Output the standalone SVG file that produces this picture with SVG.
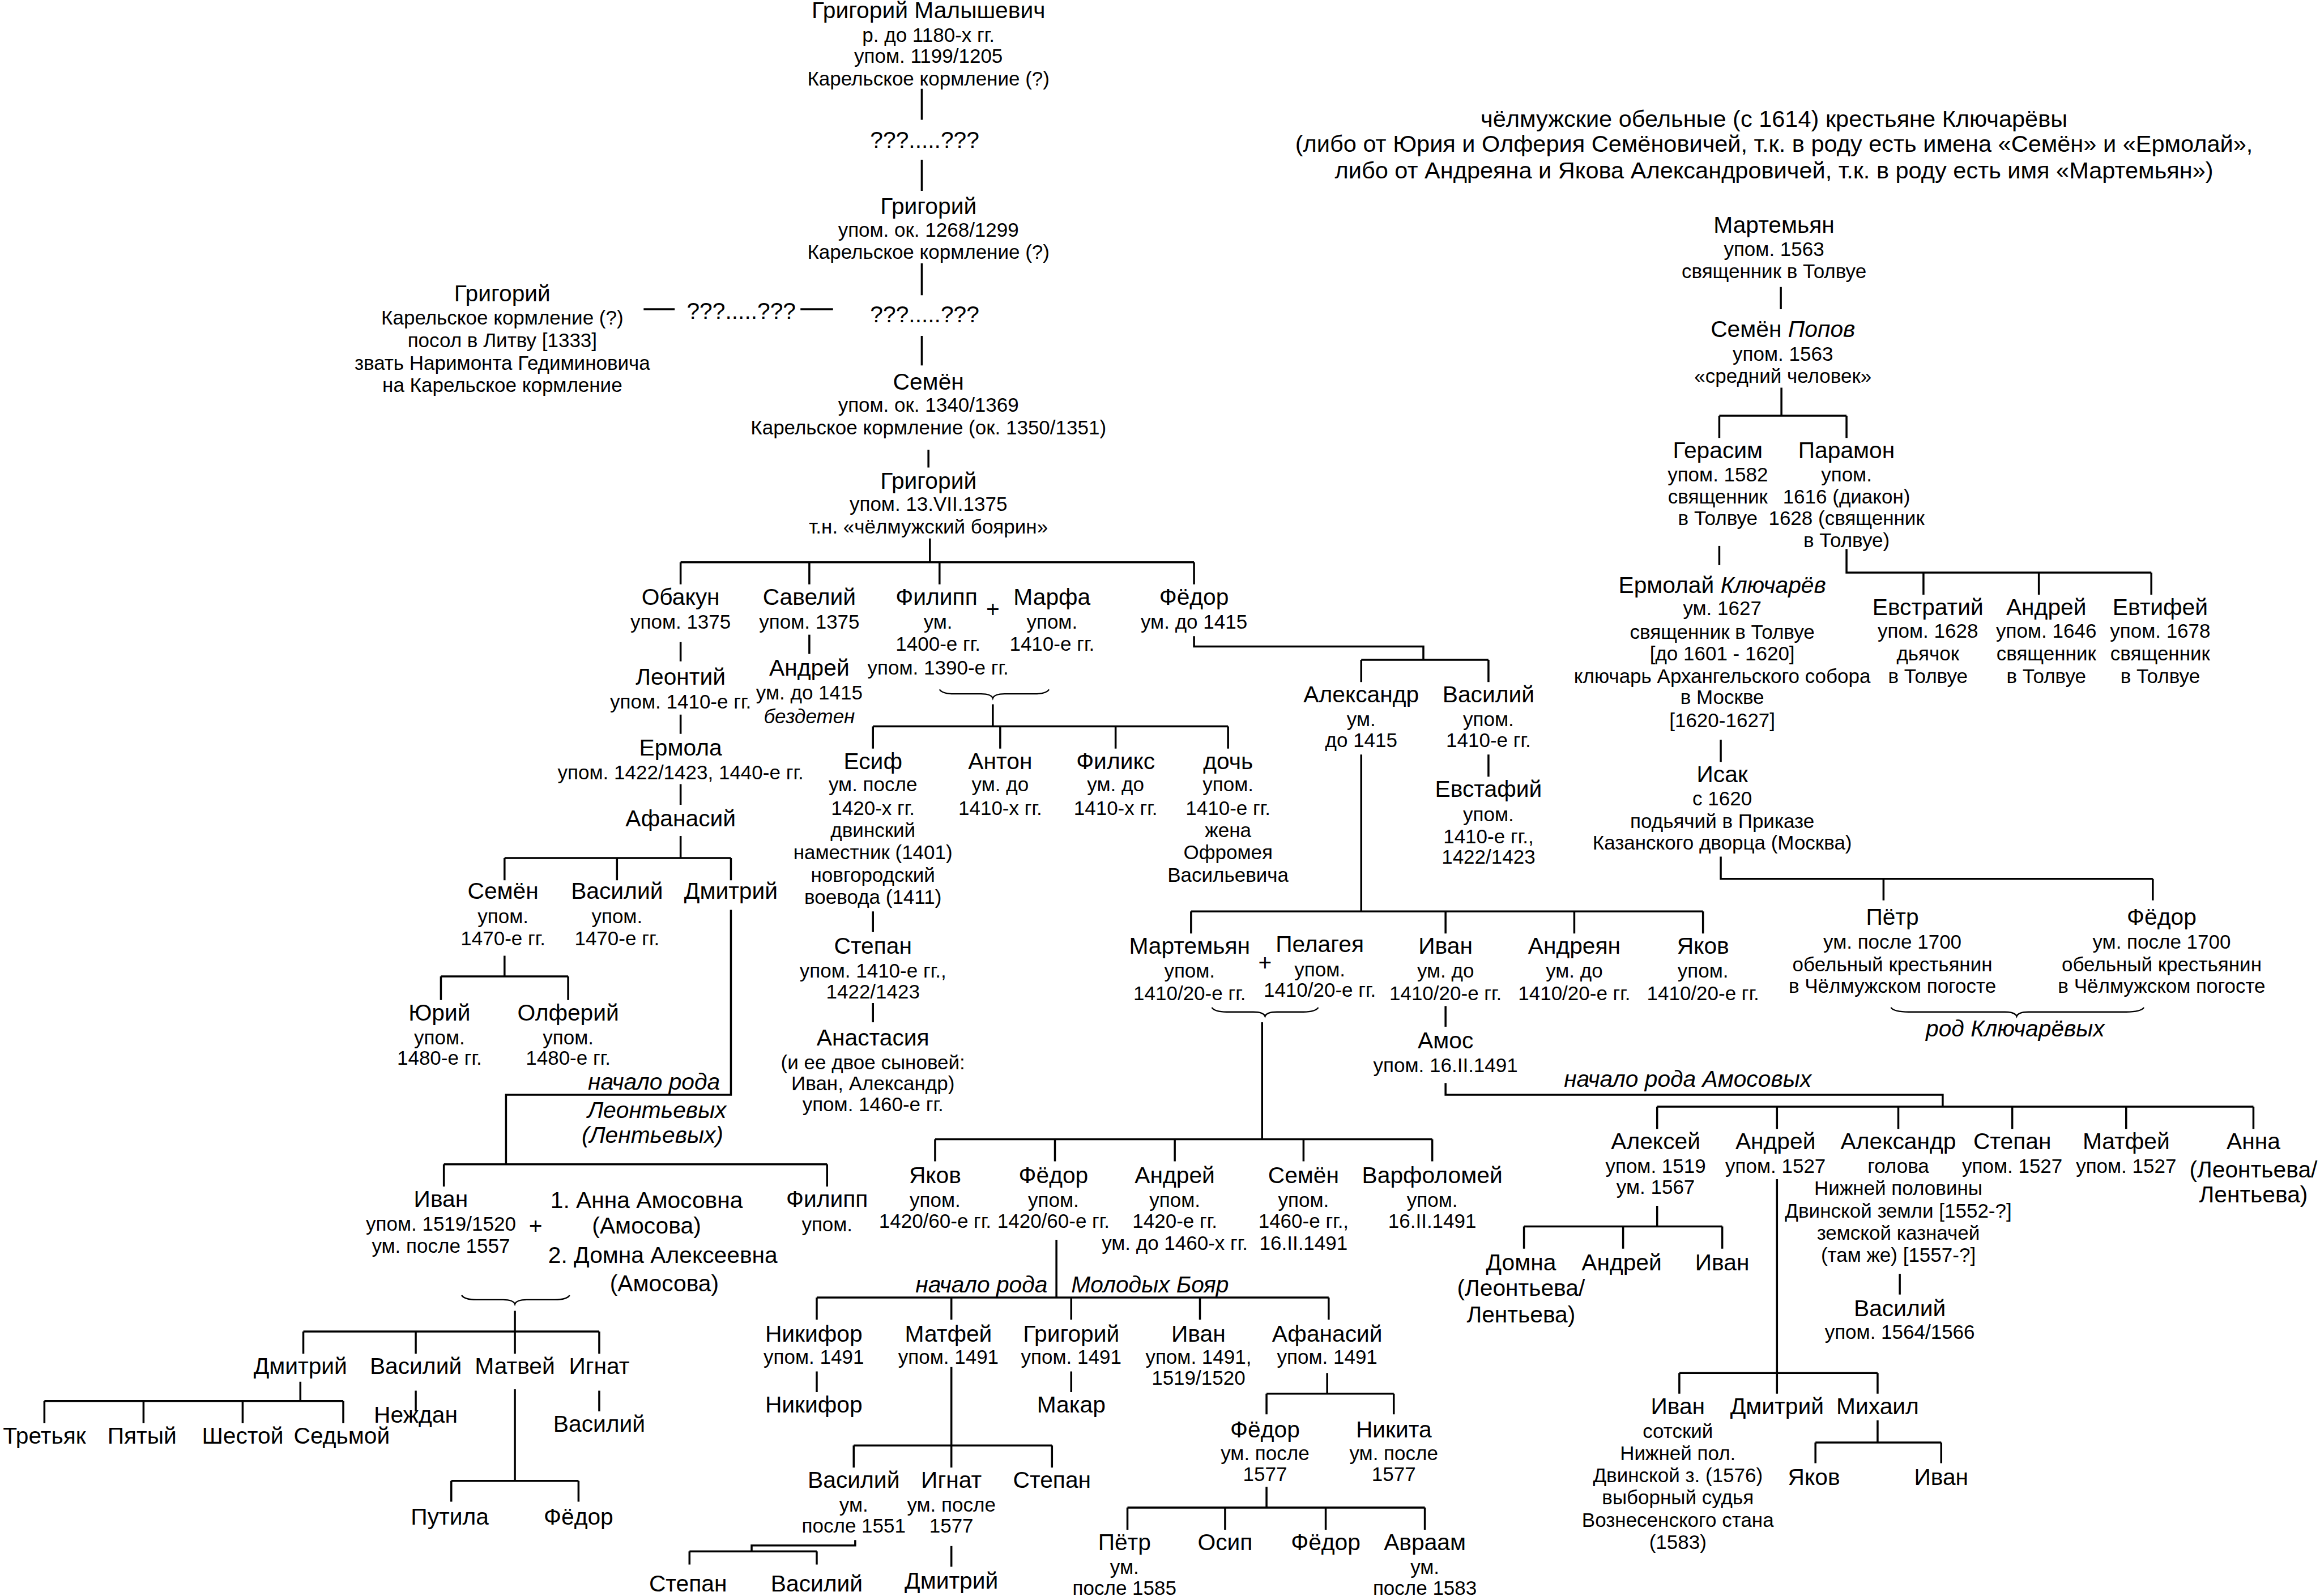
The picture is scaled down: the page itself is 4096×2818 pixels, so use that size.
<svg xmlns="http://www.w3.org/2000/svg" width="4096" height="2818" viewBox="0 0 4096 2818">
<style>
text{font-family:"Liberation Sans",Arial,"DejaVu Sans",sans-serif;text-anchor:middle;fill:#000}
.n{font-size:15.6px}
.h{font-size:15.9px}
.d{font-size:13.4px}
.i{font-style:italic}
.s{text-anchor:start}
.e{text-anchor:end}
.c path{fill:none;stroke:#000;stroke-width:1.35}
.c path.b{stroke-width:0.9}
</style>
<rect width="4096" height="2818" fill="#fff"/>
<g transform="scale(2.61224)">
<g id="connectors" class="c">
<path d="M623,60V81M623,108V129M623,178V199.5M623,227V247M627.5,304V316"/>
<path d="M435,209H456M541,209H563"/>
<path d="M628.5,364V380M460,380H807M460,380V395M547,380V395M635,380V395M807,380V395"/>
<path d="M460,434V447M460,483V496M460,530V544M460,565V580M341,580H494M341,580V595M417,580V595M494,580V595"/>
<path d="M341,646V660M298,660H384M298,660V676M384,660V676"/>
<path d="M494,615V740H342V787M300,787H559M300,787V802M559,787V802"/>
<path d="M547,429V442"/>
<path class="b" d="M635,466Q637,469 645,469L663,469Q670,469 671,472Q672,469 679,469L699,469Q707,469 709,466"/>
<path d="M671,476V491M590,491H830M590,491V506M676,491V506M754,491V506M830,491V506"/>
<path d="M590,616V630M590,678V691"/>
<path d="M807,430V437H962V446M920,446H1006M920,446V461M1006,446V461"/>
<path d="M1006,510V525"/>
<path d="M920,510V616M805,616H1151M805,616V631M977,616V631M1064,616V631M1151,616V631"/>
<path d="M977,680V694"/>
<path d="M977,732V740H1313V748M1120,748H1523M1120,748V763M1201,748V763M1283,748V763M1360,748V763M1437,748V763M1523,748V763"/>
<path d="M1120,815V829M1030,829H1164M1030,829V844M1097,829V844M1164,829V844"/>
<path d="M1284,861V875"/>
<path d="M1201,797V942M1135,928H1269M1135,928V942M1269,928V942"/>
<path d="M1269,960V975M1227,975H1312M1227,975V989M1312,975V989"/>
<path class="b" d="M819,681Q821,684 829,684L847,684Q854,684 855,687Q856,684 863,684L881,684Q889,684 891,681"/>
<path d="M853,691V770M632,770H968M632,770V785M713,770V785M794,770V785M881,770V785M968,770V785"/>
<path d="M714,838V877M552,877H898M552,877V892M643,877V892M724,877V892M811,877V892M898,877V892"/>
<path d="M552,927V941M724,927V941"/>
<path d="M643,924V977M577,977H711M577,977V992M643,977V992M711,977V992"/>
<path d="M578,1041V1044.6H508V1048.6M466,1048.6H552M466,1048.6V1057.5M552,1048.6V1057.5"/>
<path d="M643,1045V1059"/>
<path d="M897,928V942M856,942H942M856,942V956M942,942V956"/>
<path d="M856,1005V1019M762,1019H963M762,1019V1034M828,1019V1034M896,1019V1034M963,1019V1034"/>
<path class="b" d="M312,875.5Q314,878.5 322,878.5L340,878.5Q347,878.5 348,881.5Q349,878.5 356,878.5L375,878.5Q383,878.5 385,875.5"/>
<path d="M348,886V915M205,900H405M205,900V915M281,900V915M405,900V915"/>
<path d="M203,934V947M30,947H232M30,947V962M97,947V962M164,947V962M232,947V962"/>
<path d="M281,940V954M405,940V954"/>
<path d="M348,939V1001M305,1001H391M305,1001V1015M391,1001V1015"/>
<path d="M1203.6,194V209M1204,262V281M1162,281H1248M1162,281V296M1248,281V296"/>
<path d="M1162,369V382"/>
<path d="M1248,371V387H1454M1300,387V402M1378,387V402M1454,387V402"/>
<path d="M1163,500V515"/>
<path d="M1163,579V594H1455M1273,594V608.6M1455,594V608.6"/>
<path class="b" d="M1278,681Q1280,684 1290,684L1355,684Q1362,684 1363,687Q1364,684 1371,684L1437,684Q1447,684 1449,681"/>
</g>
<g id="nodes">
<g id="grigoriy-malyshevich"><text class="n" x="627.5" y="12.3">Григорий Малышевич</text><text class="d" x="627.5" y="28.5">р. до 1180-х гг.</text><text class="d" x="627.5" y="42.6">упом. 1199/1205</text><text class="d" x="627.5" y="57.9">Карельское кормление (?)</text></g>
<g id="unknown-1"><text class="n" x="625" y="99.9">???.....???</text></g>
<g id="grigoriy-1268"><text class="n" x="627.5" y="144.7">Григорий</text><text class="d" x="627.5" y="160">упом. ок. 1268/1299</text><text class="d" x="627.5" y="175">Карельское кормление (?)</text></g>
<g id="unknown-2"><text class="n" x="625" y="217.7">???.....???</text></g>
<g id="unknown-3"><text class="n" x="501" y="215.4">???.....???</text></g>
<g id="grigoriy-posol"><text class="n" x="339.5" y="203.6">Григорий</text><text class="d" x="339.5" y="219.3">Карельское кормление (?)</text><text class="d" x="339.5" y="234.6">посол в Литву [1333]</text><text class="d" x="339.5" y="250">звать Наримонта Гедиминовича</text><text class="d" x="339.5" y="264.8">на Карельское кормление</text></g>
<g id="semen-1340"><text class="n" x="627.5" y="263.2">Семён</text><text class="d" x="627.5" y="278.2">упом. ок. 1340/1369</text><text class="d" x="627.5" y="293.5">Карельское кормление (ок. 1350/1351)</text></g>
<g id="grigoriy-1375"><text class="n" x="627.5" y="330.4">Григорий</text><text class="d" x="627.5" y="345.3">упом. 13.VII.1375</text><text class="d" x="627.5" y="360.7">т.н. «чёлмужский боярин»</text></g>
<g id="obakun"><text class="n" x="460" y="408.7">Обакун</text><text class="d" x="460" y="424.9">упом. 1375</text></g>
<g id="leontiy"><text class="n" x="460" y="462.7">Леонтий</text><text class="d" x="460" y="478.9">упом. 1410-е гг.</text></g>
<g id="ermola"><text class="n" x="460" y="510.7">Ермола</text><text class="d" x="460" y="526.9">упом. 1422/1423, 1440-е гг.</text></g>
<g id="afanasiy-1"><text class="n" x="460" y="558.7">Афанасий</text></g>
<g id="saveliy"><text class="n" x="547" y="408.7">Савелий</text><text class="d" x="547" y="424.9">упом. 1375</text></g>
<g id="andrey-saveliev"><text class="n" x="547" y="456.7">Андрей</text><text class="d" x="547" y="472.9">ум. до 1415</text><text class="d i" x="547" y="488.9">бездетен</text></g>
<g id="filipp"><text class="n" x="633" y="408.7">Филипп</text><text class="d" x="634" y="424.9">ум.</text><text class="d" x="634" y="439.9">1400-е гг.</text><text class="d" x="634" y="455.9">упом. 1390-е гг.</text></g>
<text class="n" x="671" y="417.3">+</text>
<g id="marfa"><text class="n" x="711" y="408.7">Марфа</text><text class="d" x="711" y="424.9">упом.</text><text class="d" x="711" y="439.9">1410-е гг.</text></g>
<g id="fedor-1415"><text class="n" x="807" y="408.7">Фёдор</text><text class="d" x="807" y="424.9">ум. до 1415</text></g>
<g id="semen-afanasiev"><text class="n" x="340" y="607.7">Семён</text><text class="d" x="340" y="623.9">упом.</text><text class="d" x="340" y="638.9">1470-е гг.</text></g>
<g id="vasiliy-afanasiev"><text class="n" x="417" y="607.7">Василий</text><text class="d" x="417" y="623.9">упом.</text><text class="d" x="417" y="638.9">1470-е гг.</text></g>
<g id="dmitriy-afanasiev"><text class="n" x="494" y="607.7">Дмитрий</text></g>
<g id="yuriy"><text class="n" x="297" y="689.7">Юрий</text><text class="d" x="297" y="705.9">упом.</text><text class="d" x="297" y="719.5">1480-е гг.</text></g>
<g id="olferiy"><text class="n" x="384" y="689.7">Олферий</text><text class="d" x="384" y="705.9">упом.</text><text class="d" x="384" y="719.5">1480-е гг.</text></g>
<g id="label-leontievy"><text class="n i" x="442" y="736.7">начало рода</text><text class="n i" x="444" y="755.7">Леонтьевых</text><text class="n i" x="441" y="772.7">(Лентьевых)</text></g>
<g id="esif"><text class="n" x="590" y="519.7">Есиф</text><text class="d" x="590" y="534.9">ум. после</text><text class="d" x="590" y="550.9">1420-х гг.</text><text class="d" x="590" y="565.9">двинский</text><text class="d" x="590" y="580.9">наместник (1401)</text><text class="d" x="590" y="595.9">новгородский</text><text class="d" x="590" y="610.9">воевода (1411)</text></g>
<g id="stepan-esifov"><text class="n" x="590" y="644.7">Степан</text><text class="d" x="590" y="660.9">упом. 1410-е гг.,</text><text class="d" x="590" y="674.9">1422/1423</text></g>
<g id="anastasiya"><text class="n" x="590" y="706.7">Анастасия</text><text class="d" x="590" y="722.9">(и ее двое сыновей:</text><text class="d" x="590" y="736.9">Иван, Александр)</text><text class="d" x="590" y="750.9">упом. 1460-е гг.</text></g>
<g id="anton"><text class="n" x="676" y="519.7">Антон</text><text class="d" x="676" y="534.9">ум. до</text><text class="d" x="676" y="550.9">1410-х гг.</text></g>
<g id="feliks"><text class="n" x="754" y="519.7">Филикс</text><text class="d" x="754" y="534.9">ум. до</text><text class="d" x="754" y="550.9">1410-х гг.</text></g>
<g id="doch"><text class="n" x="830" y="519.7">дочь</text><text class="d" x="830" y="534.9">упом.</text><text class="d" x="830" y="550.9">1410-е гг.</text><text class="d" x="830" y="565.9">жена</text><text class="d" x="830" y="580.9">Офромея</text><text class="d" x="830" y="595.9">Васильевича</text></g>
<g id="aleksandr"><text class="n" x="920" y="474.7">Александр</text><text class="d" x="920" y="490.9">ум.</text><text class="d" x="920" y="504.9">до 1415</text></g>
<g id="vasiliy-fedorov"><text class="n" x="1006" y="474.7">Василий</text><text class="d" x="1006" y="490.9">упом.</text><text class="d" x="1006" y="504.9">1410-е гг.</text></g>
<g id="evstafiy"><text class="n" x="1006" y="538.7">Евстафий</text><text class="d" x="1006" y="554.9">упом.</text><text class="d" x="1006" y="569.9">1410-е гг.,</text><text class="d" x="1006" y="583.9">1422/1423</text></g>
<g id="martemyan"><text class="n" x="804" y="644.7">Мартемьян</text><text class="d" x="804" y="660.9">упом.</text><text class="d" x="804" y="675.9">1410/20-е гг.</text></g>
<text class="n" x="855" y="656">+</text>
<g id="pelageya"><text class="n" x="892" y="643.7">Пелагея</text><text class="d" x="892" y="659.9">упом.</text><text class="d" x="892" y="673.9">1410/20-е гг.</text></g>
<g id="ivan-aleksandrov"><text class="n" x="977" y="644.7">Иван</text><text class="d" x="977" y="660.9">ум. до</text><text class="d" x="977" y="675.9">1410/20-е гг.</text></g>
<g id="andreyan"><text class="n" x="1064" y="644.7">Андреян</text><text class="d" x="1064" y="660.9">ум. до</text><text class="d" x="1064" y="675.9">1410/20-е гг.</text></g>
<g id="yakov-aleksandrov"><text class="n" x="1151" y="644.7">Яков</text><text class="d" x="1151" y="660.9">упом.</text><text class="d" x="1151" y="675.9">1410/20-е гг.</text></g>
<g id="amos"><text class="n" x="977" y="708.5">Амос</text><text class="d" x="977" y="724.7">упом. 16.II.1491</text></g>
<g id="yakov-martemyanov"><text class="n" x="632" y="799.7">Яков</text><text class="d" x="632" y="815.9">упом.</text><text class="d" x="632" y="829.9">1420/60-е гг.</text></g>
<g id="fedor-martemyanov"><text class="n" x="712" y="799.7">Фёдор</text><text class="d" x="712" y="815.9">упом.</text><text class="d" x="712" y="829.9">1420/60-е гг.</text></g>
<g id="andrey-martemyanov"><text class="n" x="794" y="799.7">Андрей</text><text class="d" x="794" y="815.9">упом.</text><text class="d" x="794" y="829.9">1420-е гг.</text><text class="d" x="794" y="844.9">ум. до 1460-х гг.</text></g>
<g id="semen-martemyanov"><text class="n" x="881" y="799.7">Семён</text><text class="d" x="881" y="815.9">упом.</text><text class="d" x="881" y="829.9">1460-е гг.,</text><text class="d" x="881" y="844.9">16.II.1491</text></g>
<g id="varfolomey"><text class="n" x="968" y="799.7">Варфоломей</text><text class="d" x="968" y="815.9">упом.</text><text class="d" x="968" y="829.9">16.II.1491</text></g>
<g id="label-molodye"><text class="n i e" x="708" y="873.7">начало рода</text><text class="n i s" x="724" y="873.7">Молодых Бояр</text></g>
<g id="nikifor"><text class="n" x="550" y="906.7">Никифор</text><text class="d" x="550" y="921.9">упом. 1491</text></g>
<g id="nikifor-2"><text class="n" x="550" y="954.7">Никифор</text></g>
<g id="matfey-fedorov"><text class="n" x="641" y="906.7">Матфей</text><text class="d" x="641" y="921.9">упом. 1491</text></g>
<g id="grigoriy-fedorov"><text class="n" x="724" y="906.7">Григорий</text><text class="d" x="724" y="921.9">упом. 1491</text></g>
<g id="makar"><text class="n" x="724" y="954.7">Макар</text></g>
<g id="ivan-fedorov"><text class="n" x="810" y="906.7">Иван</text><text class="d" x="810" y="921.9">упом. 1491,</text><text class="d" x="810" y="935.9">1519/1520</text></g>
<g id="afanasiy-fedorov"><text class="n" x="897" y="906.7">Афанасий</text><text class="d" x="897" y="921.9">упом. 1491</text></g>
<g id="fedor-afanasiev"><text class="n" x="855" y="971.7">Фёдор</text><text class="d" x="855" y="986.9">ум. после</text><text class="d" x="855" y="1000.9">1577</text></g>
<g id="nikita"><text class="n" x="942" y="971.7">Никита</text><text class="d" x="942" y="986.9">ум. после</text><text class="d" x="942" y="1000.9">1577</text></g>
<g id="petr-fedorov"><text class="n" x="760" y="1047.7">Пётр</text><text class="d" x="760" y="1063.9">ум.</text><text class="d" x="760" y="1077.9">после 1585</text></g>
<g id="osip"><text class="n" x="828" y="1047.7">Осип</text></g>
<g id="fedor-fedorov"><text class="n" x="896" y="1047.7">Фёдор</text></g>
<g id="avraam"><text class="n" x="963" y="1047.7">Авраам</text><text class="d" x="963" y="1063.9">ум.</text><text class="d" x="963" y="1077.9">после 1583</text></g>
<g id="vasiliy-matfeev"><text class="n" x="577" y="1005.7">Василий</text><text class="d" x="577" y="1021.9">ум.</text><text class="d" x="577" y="1035.9">после 1551</text></g>
<g id="ignat-matfeev"><text class="n" x="643" y="1005.7">Игнат</text><text class="d" x="643" y="1021.9">ум. после</text><text class="d" x="643" y="1035.9">1577</text></g>
<g id="stepan-matfeev"><text class="n" x="711" y="1005.7">Степан</text></g>
<g id="stepan-vasiliev"><text class="n" x="465" y="1075.7">Степан</text></g>
<g id="vasiliy-vasiliev"><text class="n" x="552" y="1075.7">Василий</text></g>
<g id="dmitriy-ignatov"><text class="n" x="643" y="1073.7">Дмитрий</text></g>
<g id="ivan-dmitriev"><text class="n" x="298" y="815.7">Иван</text><text class="d" x="298" y="831.9">упом. 1519/1520</text><text class="d" x="298" y="846.9">ум. после 1557</text></g>
<text class="n" x="362" y="834">+</text>
<g id="wives-ivan"><text class="n" x="437" y="816.7">1. Анна Амосовна</text><text class="n" x="437" y="833.7">(Амосова)</text><text class="n" x="448" y="853.7">2. Домна Алексеевна</text><text class="n" x="449" y="872.7">(Амосова)</text></g>
<g id="filipp-dmitriev"><text class="n" x="559" y="815.7">Филипп</text><text class="d" x="559" y="832.4">упом.</text></g>
<g id="dmitriy-ivanov"><text class="n" x="203" y="928.7">Дмитрий</text></g>
<g id="vasiliy-ivanov"><text class="n" x="281" y="928.7">Василий</text></g>
<g id="matvey"><text class="n" x="348" y="928.7">Матвей</text></g>
<g id="ignat-ivanov"><text class="n" x="405" y="928.7">Игнат</text></g>
<g id="tretyak"><text class="n" x="30" y="975.7">Третьяк</text></g>
<g id="pyatyy"><text class="n" x="96" y="975.7">Пятый</text></g>
<g id="shestoy"><text class="n" x="164" y="975.7">Шестой</text></g>
<g id="sedmoy"><text class="n" x="231" y="975.7">Седьмой</text></g>
<g id="nezhdan"><text class="n" x="281" y="961.7">Неждан</text></g>
<g id="vasiliy-ignatov"><text class="n" x="405" y="967.7">Василий</text></g>
<g id="putila"><text class="n" x="304" y="1030.7">Путила</text></g>
<g id="fedor-matveev"><text class="n" x="391" y="1030.7">Фёдор</text></g>
<g id="label-amosovy"><text class="n i s" x="1057" y="734.7">начало рода Амосовых</text></g>
<g id="aleksey"><text class="n" x="1119" y="776.7">Алексей</text><text class="d" x="1119" y="792.9">упом. 1519</text><text class="d" x="1119" y="806.9">ум. 1567</text></g>
<g id="andrey-amosov"><text class="n" x="1200" y="776.7">Андрей</text><text class="d" x="1200" y="792.9">упом. 1527</text></g>
<g id="aleksandr-amosov"><text class="n" x="1283" y="776.7">Александр</text><text class="d" x="1283" y="792.9">голова</text><text class="d" x="1283" y="807.9">Нижней половины</text><text class="d" x="1283" y="822.9">Двинской земли [1552-?]</text><text class="d" x="1283" y="837.9">земской казначей</text><text class="d" x="1283" y="852.9">(там же) [1557-?]</text></g>
<g id="stepan-amosov"><text class="n" x="1360" y="776.7">Степан</text><text class="d" x="1360" y="792.9">упом. 1527</text></g>
<g id="matfey-amosov"><text class="n" x="1437" y="776.7">Матфей</text><text class="d" x="1437" y="792.9">упом. 1527</text></g>
<g id="anna"><text class="n" x="1523" y="776.7">Анна</text><text class="n" x="1523" y="795.7">(Леонтьева/</text><text class="n" x="1523" y="812.7">Лентьева)</text></g>
<g id="domna"><text class="n" x="1028" y="858.7">Домна</text><text class="n" x="1028" y="875.7">(Леонтьева/</text><text class="n" x="1028" y="893.7">Лентьева)</text></g>
<g id="andrey-alekseev"><text class="n" x="1096" y="858.7">Андрей</text></g>
<g id="ivan-alekseev"><text class="n" x="1164" y="858.7">Иван</text></g>
<g id="vasiliy-aleksandrov"><text class="n" x="1284" y="889.7">Василий</text><text class="d" x="1284" y="904.9">упом. 1564/1566</text></g>
<g id="ivan-andreev"><text class="n" x="1134" y="955.7">Иван</text><text class="d" x="1134" y="971.9">сотский</text><text class="d" x="1134" y="986.9">Нижней пол.</text><text class="d" x="1134" y="1001.9">Двинской з. (1576)</text><text class="d" x="1134" y="1016.9">выборный судья</text><text class="d" x="1134" y="1031.9">Вознесенского стана</text><text class="d" x="1134" y="1046.9">(1583)</text></g>
<g id="dmitriy-andreev"><text class="n" x="1201" y="955.7">Дмитрий</text></g>
<g id="mikhail"><text class="n" x="1269" y="955.7">Михаил</text></g>
<g id="yakov-mikhaylov"><text class="n" x="1226" y="1003.7">Яков</text></g>
<g id="ivan-mikhaylov"><text class="n" x="1312" y="1003.7">Иван</text></g>
<g id="header-klyucharevy"><text class="h" x="1199" y="85.7">чёлмужские обельные (с 1614) крестьяне Ключарёвы</text><text class="h" x="1199" y="102.7">(либо от Юрия и Олферия Семёновичей, т.к. в роду есть имена «Семён» и «Ермолай»,</text><text class="h" x="1199" y="120.7">либо от Андреяна и Якова Александровичей, т.к. в роду есть имя «Мартемьян»)</text></g>
<g id="martemyan-1563"><text class="n" x="1199" y="157.3">Мартемьян</text><text class="d" x="1199" y="172.9">упом. 1563</text><text class="d" x="1199" y="187.9">священник в Толвуе</text></g>
<g id="semen-popov"><text class="n" x="1205" y="227.7">Семён <tspan class="i">Попов</tspan></text><text class="d" x="1205" y="243.9">упом. 1563</text><text class="d" x="1205" y="258.9">«средний человек»</text></g>
<g id="gerasim"><text class="n" x="1161" y="309.7">Герасим</text><text class="d" x="1161" y="325.4">упом. 1582</text><text class="d" x="1161" y="340.4">священник</text><text class="d" x="1161" y="354.9">в Толвуе</text></g>
<g id="paramon"><text class="n" x="1248" y="309.7">Парамон</text><text class="d" x="1248" y="325.4">упом.</text><text class="d" x="1248" y="340.4">1616 (диакон)</text><text class="d" x="1248" y="354.9">1628 (священник</text><text class="d" x="1248" y="369.9">в Толвуе)</text></g>
<g id="ermolay-klyucharev"><text class="n" x="1164" y="400.7">Ермолай <tspan class="i">Ключарёв</tspan></text><text class="d" x="1164" y="415.9">ум. 1627</text><text class="d" x="1164" y="431.9">священник в Толвуе</text><text class="d" x="1164" y="446.4">[до 1601 - 1620]</text><text class="d" x="1164" y="461.5">ключарь Архангельского собора</text><text class="d" x="1164" y="475.9">в Москве</text><text class="d" x="1164" y="491.5">[1620-1627]</text></g>
<g id="evstratiy"><text class="n" x="1303" y="415.7">Евстратий</text><text class="d" x="1303" y="430.9">упом. 1628</text><text class="d" x="1303" y="446.4">дьячок</text><text class="d" x="1303" y="461.5">в Толвуе</text></g>
<g id="andrey-paramonov"><text class="n" x="1383" y="415.7">Андрей</text><text class="d" x="1383" y="430.9">упом. 1646</text><text class="d" x="1383" y="446.4">священник</text><text class="d" x="1383" y="461.5">в Толвуе</text></g>
<g id="evtifey"><text class="n" x="1460" y="415.7">Евтифей</text><text class="d" x="1460" y="430.9">упом. 1678</text><text class="d" x="1460" y="446.4">священник</text><text class="d" x="1460" y="461.5">в Толвуе</text></g>
<g id="isak"><text class="n" x="1164" y="528.7">Исак</text><text class="d" x="1164" y="544.4">с 1620</text><text class="d" x="1164" y="559.5">подьячий в Приказе</text><text class="d" x="1164" y="574.3">Казанского дворца (Москва)</text></g>
<g id="petr-isakov"><text class="n" x="1279" y="625.2">Пётр</text><text class="d" x="1279" y="641.4">ум. после 1700</text><text class="d" x="1279" y="656.5">обельный крестьянин</text><text class="d" x="1279" y="670.9">в Чёлмужском погосте</text></g>
<g id="fedor-isakov"><text class="n" x="1461" y="625.2">Фёдор</text><text class="d" x="1461" y="641.4">ум. после 1700</text><text class="d" x="1461" y="656.5">обельный крестьянин</text><text class="d" x="1461" y="670.9">в Чёлмужском погосте</text></g>
<g id="label-klyucharevy"><text class="n i" x="1362" y="700.7">род Ключарёвых</text></g>
</g>
</g>
</svg>
